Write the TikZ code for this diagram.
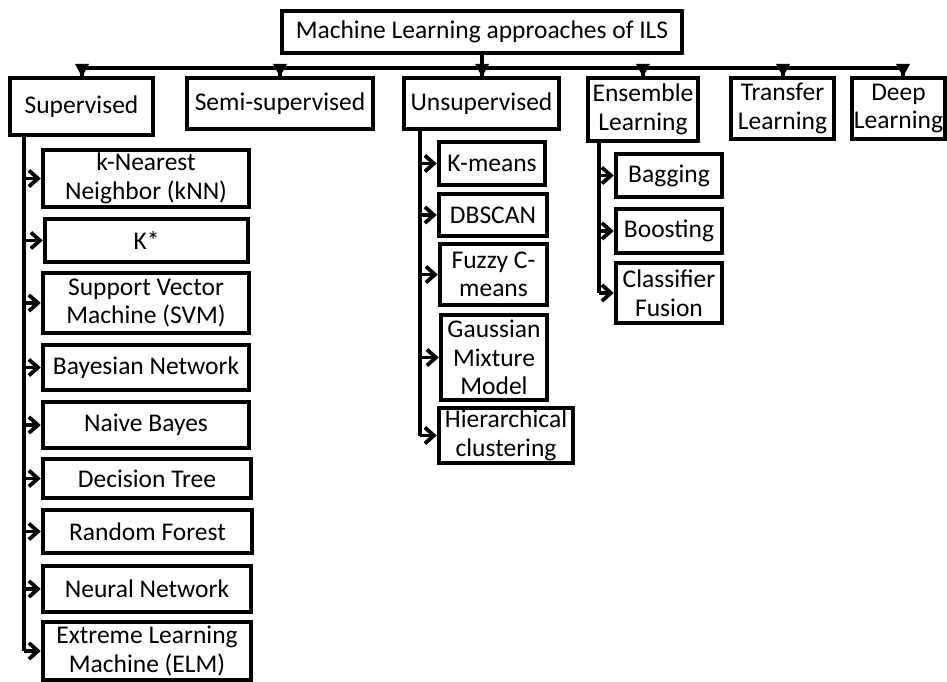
\documentclass[tikz,border=0pt]{standalone}
\usepackage{fontspec}
\setmainfont{Carlito}
\usetikzlibrary{arrows.meta}
\begin{document}
\begin{tikzpicture}[x=1pt,y=-1pt,
  box/.style={draw,line width=4.2pt,align=center,inner sep=0pt,
    font=\fontsize{25.5}{28.5}\selectfont},
  ln/.style={line width=3.8pt},
  chev/.style={line width=3.8pt,line join=miter,line cap=butt}]
\useasboundingbox (0,0) rectangle (947,682);
% top and first level
\node[box,minimum width=400,minimum height=42] (top) at (482,32) {Machine Learning approaches of ILS};
\node[box,minimum width=143,minimum height=57] (sup) at (81.5,106.5) {Supervised};
\node[box,minimum width=186,minimum height=51] (semi) at (280,103.5) {Semi-supervised};
\node[box,minimum width=155,minimum height=51] (uns) at (481.5,103.5) {Unsupervised};
\node[box,minimum width=110,minimum height=63] (ens) at (643,109.5) {Ensemble\\Learning};
\node[box,minimum width=103,minimum height=61] (tra) at (782.5,108.5) {Transfer\\Learning};
\node[box,minimum width=93,minimum height=61] (dee) at (898.5,108.5) {Deep\\Learning};
% bus
\coordinate (b1) at (82,68);
\coordinate (b2) at (280,68);
\coordinate (b3) at (482,68);
\coordinate (b4) at (643,68);
\coordinate (b5) at (783,68);
\coordinate (b6) at (903,68);
\draw[ln] (top.south) -- (b3);
\draw[ln] (b1) -- (b6);
\foreach \b/\n in {b1/sup,b2/semi,b3/uns,b4/ens,b5/tra,b6/dee}{
  \draw[ln] (\b) -- ([yshift=-2pt]\b |- \n.north);
  \fill ([shift={(-7,-12)}]\b |- \n.north) -- ([shift={(7,-12)}]\b |- \n.north)
        -- ([yshift=-1pt]\b |- \n.north) -- cycle;
}
% supervised children
\node[box,minimum width=206,minimum height=57] (knn) at (146,178.5) {k-Nearest\\Neighbor (kNN)};
\node[box,minimum width=203,minimum height=43] (kst) at (146.5,240.5) {K*};
\node[box,minimum width=206,minimum height=60] (svm) at (146,303) {Support Vector\\Machine (SVM)};
\node[box,minimum width=206,minimum height=45] (bn) at (146,367.5) {Bayesian Network};
\node[box,minimum width=206,minimum height=46] (nb) at (146,425) {Naive Bayes};
\node[box,minimum width=208,minimum height=39] (dt) at (147,478.5) {Decision Tree};
\node[box,minimum width=209,minimum height=43] (rf) at (147.5,531.5) {Random Forest};
\node[box,minimum width=208,minimum height=46] (nn) at (147,589) {Neural Network};
\node[box,minimum width=208,minimum height=58] (elm) at (147,651) {Extreme Learning\\Machine (ELM)};
\coordinate (sS) at (24,0);
\draw[ln] (sS |- sup.south) -- (sS |- elm.west);
\foreach \n in {knn,kst,svm,bn,nb,dt,rf,nn,elm}{
  \draw[ln] (sS |- \n.west) -- ([xshift=-2pt]\n.west);
  \draw[chev] ([shift={(-12,-8)}]\n.west) -- ([xshift=-3pt]\n.west) -- ([shift={(-12,8)}]\n.west);
}
% unsupervised children
\node[box,minimum width=106,minimum height=43] (km) at (492,163.5) {K-means};
\node[box,minimum width=108,minimum height=42] (db) at (493,215) {DBSCAN};
\node[box,minimum width=107,minimum height=61] (fc) at (493.5,274.5) {Fuzzy C-\\means};
\node[box,minimum width=106,minimum height=85] (gm) at (494,357.5) {Gaussian\\Mixture\\Model};
\node[box,minimum width=134,minimum height=55] (hc) at (506,435.5) {Hierarchical\\clustering};
\coordinate (uS) at (420,0);
\draw[ln] (uS |- uns.south) -- (uS |- hc.west);
\foreach \n in {km,db,fc,gm,hc}{
  \draw[ln] (uS |- \n.west) -- ([xshift=-2pt]\n.west);
  \draw[chev] ([shift={(-12,-8)}]\n.west) -- ([xshift=-3pt]\n.west) -- ([shift={(-12,8)}]\n.west);
}
% ensemble children
\node[box,minimum width=106,minimum height=43] (bag) at (669,175.5) {Bagging};
\node[box,minimum width=106,minimum height=44] (boo) at (669,231) {Boosting};
\node[box,minimum width=106,minimum height=60] (cf) at (669,293) {Classifier\\Fusion};
\coordinate (eS) at (599,0);
\draw[ln] (eS |- ens.south) -- (eS |- cf.west);
\foreach \n in {bag,boo,cf}{
  \draw[ln] (eS |- \n.west) -- ([xshift=-2pt]\n.west);
  \draw[chev] ([shift={(-12,-8)}]\n.west) -- ([xshift=-3pt]\n.west) -- ([shift={(-12,8)}]\n.west);
}
\end{tikzpicture}
\end{document}
